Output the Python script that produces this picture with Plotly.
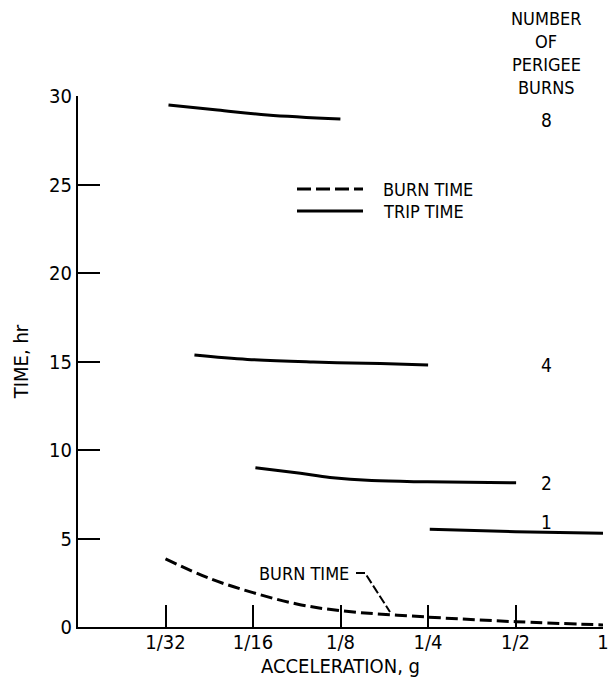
import math
import plotly.graph_objects as go

# ---------------- data ----------------
tick_vals = [1/32, 1/16, 1/8, 1/4, 1/2, 1]
tick_text = ["1/32", "1/16", "1/8", "1/4", "1/2", "1"]
y_ticks = [0, 5, 10, 15, 20, 25, 30]

# trip time curves (acceleration g, time hr) for each number of perigee burns
trip8_x = [0.0320, 0.0472, 0.0700, 0.1249]
trip8_y = [29.49, 29.21, 28.93, 28.70]

trip4_x = [0.0393, 0.0598, 0.1007, 0.1713, 0.2502]
trip4_y = [15.37, 15.12, 14.97, 14.88, 14.80]

trip2_x = [0.0637, 0.0910, 0.1150, 0.1600, 0.2485, 0.5024]
trip2_y = [9.00, 8.68, 8.45, 8.27, 8.20, 8.15]

trip1_x = [0.2535, 0.5000, 1.0000]
trip1_y = [5.52, 5.38, 5.29]

# burn time curve
burn_x = [1/32, 0.0442, 1/16, 0.0884, 1/8, 1/4, 1/2, 1]
burn_y = [3.85, 2.75, 1.94, 1.30, 0.92, 0.56, 0.30, 0.12]

burn_labels = ["8", "4", "2", "1"]
burn_label_y = [28.64, 14.80, 8.14, 5.95]

header_lines = ["NUMBER", "OF", "PERIGEE", "BURNS"]

# ---------------- figure ----------------
FONT = "DejaVu Sans Condensed, Liberation Sans Narrow, sans-serif"
W, H = 610, 683
ML, MR, MT, MB = 78, 7, 96, 56
PW, PH = W - ML - MR, H - MT - MB


def px(xp):
    return (xp - ML) / PW


def py(yp):
    return (H - MB - yp) / PH


fig = go.Figure()
solid = dict(color="black", width=3, shape="spline")
for xs, ys in [(trip8_x, trip8_y), (trip4_x, trip4_y), (trip2_x, trip2_y), (trip1_x, trip1_y)]:
    fig.add_trace(go.Scatter(x=xs, y=ys, mode="lines", line=solid,
                             showlegend=False, hoverinfo="skip"))
fig.add_trace(go.Scatter(x=burn_x, y=burn_y, mode="lines",
                         line=dict(color="black", width=3, dash="12px,5px", shape="spline"),
                         showlegend=False, hoverinfo="skip"))

annotations = []
# numbers of perigee burns
for lab, yv in zip(burn_labels, burn_label_y):
    annotations.append(dict(x=px(546), xref="paper", y=yv, yref="y", text=lab,
                            showarrow=False, xanchor="center", yanchor="middle",
                            font=dict(family=FONT, size=19, color="black")))
# header
for i, line in enumerate(header_lines):
    annotations.append(dict(x=px(546), xref="paper", y=py(18 + i * 23.3), yref="paper",
                            text=line, showarrow=False, xanchor="center", yanchor="middle",
                            font=dict(family=FONT, size=18, color="black")))
# legend texts
annotations.append(dict(x=px(381), xref="paper", y=py(189), yref="paper", text="BURN TIME",
                        showarrow=False, xanchor="left", yanchor="middle",
                        font=dict(family=FONT, size=18, color="black")))
annotations.append(dict(x=px(381), xref="paper", y=py(211), yref="paper", text="TRIP TIME",
                        showarrow=False, xanchor="left", yanchor="middle",
                        font=dict(family=FONT, size=18, color="black")))
# burn time callout
annotations.append(dict(x=px(351), xref="paper", y=py(573), yref="paper", text="BURN TIME",
                        showarrow=False, xanchor="right", yanchor="middle",
                        font=dict(family=FONT, size=18, color="black")))

shapes = [
    dict(type="line", xref="paper", yref="paper", x0=px(297), x1=px(363), y0=py(189), y1=py(189),
         line=dict(color="black", width=3, dash="14px,5px")),
    dict(type="line", xref="paper", yref="paper", x0=px(297), x1=px(363), y0=py(211), y1=py(211),
         line=dict(color="black", width=3)),
    dict(type="path", xref="paper", yref="paper",
         path=f"M {px(356)},{py(573)} L {px(365)},{py(573)} L {px(390)},{py(612)}",
         line=dict(color="black", width=2, dash="9px,3px")),
]

fig.update_layout(
    width=W, height=H,
    margin=dict(l=ML, r=MR, t=MT, b=MB, pad=0),
    paper_bgcolor="white", plot_bgcolor="white",
    showlegend=False,
    font=dict(family=FONT, size=19, color="black"),
    annotations=annotations,
    shapes=shapes,
    xaxis=dict(
        type="log", range=[math.log10(1/64), 0],
        tickvals=tick_vals, ticktext=tick_text,
        ticks="inside", ticklen=22, tickwidth=2, tickcolor="black",
        showline=True, linewidth=2, linecolor="black",
        showgrid=False, zeroline=False,
        ticklabelstandoff=-4,
        tickfont=dict(family=FONT, size=20, color="black"),
        title=dict(text="ACCELERATION, g", standoff=3,
                   font=dict(family=FONT, size=20, color="black")),
        automargin=False,
    ),
    yaxis=dict(
        range=[0, 30], tickvals=y_ticks,
        ticks="inside", ticklen=22, tickwidth=2, tickcolor="black",
        showline=True, linewidth=2, linecolor="black",
        showgrid=False, zeroline=False,
        tickfont=dict(family=FONT, size=20, color="black"),
        title=dict(text="TIME, hr", standoff=15,
                   font=dict(family=FONT, size=20, color="black")),
        automargin=False,
    ),
)

fig.write_html("out.html")
